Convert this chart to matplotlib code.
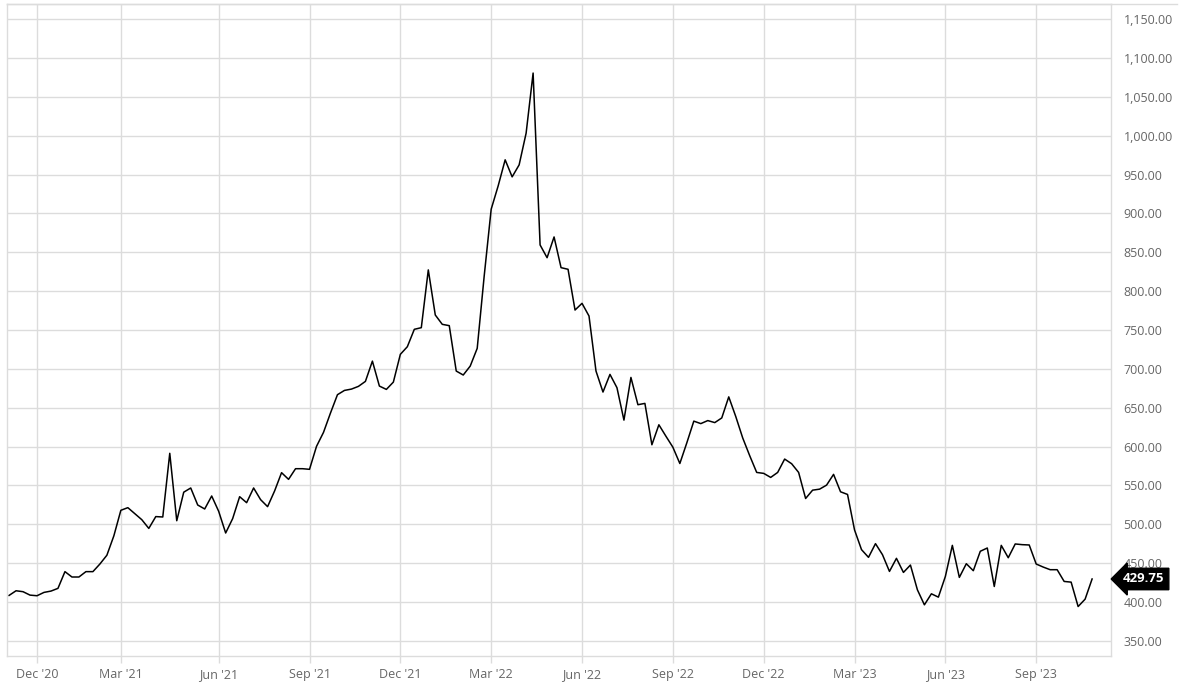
import numpy as np
import matplotlib
matplotlib.use("Agg")
import matplotlib.pyplot as plt
import matplotlib.transforms as mtransforms

plt.rcParams['font.family'] = ['Open Sans', 'DejaVu Sans']

# weekly closes (week index 0 = early Nov 2020)
prices = [
    408.6, 414.6, 413.4, 409.0, 408.2, 412.5, 414.2, 417.7, 439.2, 432.3,
    432.3, 439.2, 439.2, 449.0, 460.3, 485.3, 518.1, 521.5, 513.8, 506.0,
    494.8, 510.0, 509.5, 591.4, 504.7, 541.4, 546.8, 524.9, 519.8, 536.5,
    516.8, 488.9, 507.4, 535.6, 527.9, 546.8, 531.8, 522.8, 542.9, 566.5,
    557.9, 571.6, 571.6, 570.8, 600.3, 618.3, 643.2, 666.8, 672.3, 674.0,
    677.5, 683.9, 710.0, 677.9, 673.6, 683.0, 718.7, 728.5, 750.9, 753.0,
    827.3, 769.3, 757.3, 755.6, 697.2, 692.1, 703.6, 726.4, 819.5, 905.4,
    935.4, 968.9, 947.0, 962.4, 1003.2, 1080.5, 859.4, 843.0, 869.7, 830.2,
    828.1, 775.7, 784.3, 768.0, 697.2, 670.2, 692.9, 675.8, 634.1, 689.0,
    653.9, 655.6, 602.4, 628.1, 613.5, 599.3, 578.3, 604.9, 632.8, 629.6,
    633.5, 630.9, 636.9, 664.0, 638.8, 611.1, 588.3, 566.8, 565.6, 560.4,
    566.8, 584.0, 578.0, 566.8, 533.3, 544.0, 545.3, 550.5, 564.3, 541.9,
    538.5, 492.9, 467.5, 457.6, 475.2, 461.0, 439.5, 456.3, 438.2, 447.7,
    415.8, 396.5, 410.7, 406.4, 433.0, 473.0, 431.8, 449.4, 440.4, 465.4,
    469.6, 420.1, 473.0, 457.1, 474.8, 473.9, 473.5, 449.0, 445.1, 441.7,
    441.7, 426.6, 425.7, 394.3, 403.8, 429.75,
]
last_price = 429.75

tick_weeks = [4, 16, 30, 43, 56, 69, 82, 95, 108, 121, 134, 147]
tick_labels = ["Dec '20", "Mar '21", "Jun '21", "Sep '21", "Dec '21", "Mar '22",
               "Jun '22", "Sep '22", "Dec '22", "Mar '23", "Jun '23", "Sep '23"]
y_ticks = np.arange(350, 1151, 50)

grid_c = '#dcdcdc'
text_c = '#666666'

fig = plt.figure(figsize=(12, 6.93), dpi=100)
ax = fig.add_axes([0.0058, 0.0534, 0.9200, 0.9408])

ax.plot(np.arange(len(prices)), prices, color='black', linewidth=1.1)

ax.set_xlim(-0.3, 157.7)
ax.set_ylim(330.7, 1169.3)

ax.set_xticks(tick_weeks)
ax.set_xticklabels(tick_labels)
ax.set_yticks(y_ticks)
ax.set_yticklabels([f"{v:,.2f}" for v in y_ticks])

ax.yaxis.tick_right()
ax.grid(True, color=grid_c, linewidth=1.0)
ax.set_axisbelow(True)
for s in ax.spines.values():
    s.set_color(grid_c)
    s.set_linewidth(1.0)

ax.tick_params(axis='x', colors=grid_c, labelcolor=text_c, labelsize=9, length=5, width=1, pad=4)
ax.tick_params(axis='y', length=0, labelcolor=text_c, labelsize=9, pad=9)

# top border continues over the label area
fig.add_artist(plt.Line2D([0.0058, 0.981], [0.9942, 0.9942], color=grid_c, linewidth=1.0))

# last price tag
trans = mtransforms.blended_transform_factory(ax.transAxes, ax.transData)
ax.text(1.011, last_price, f"{last_price:.2f}", transform=trans, color='white',
        fontsize=9.5, fontweight='bold', va='center', ha='left', clip_on=False,
        bbox=dict(boxstyle='larrow,pad=0.32', facecolor='black', edgecolor='black'))

fig.savefig('out.png', dpi=100)
